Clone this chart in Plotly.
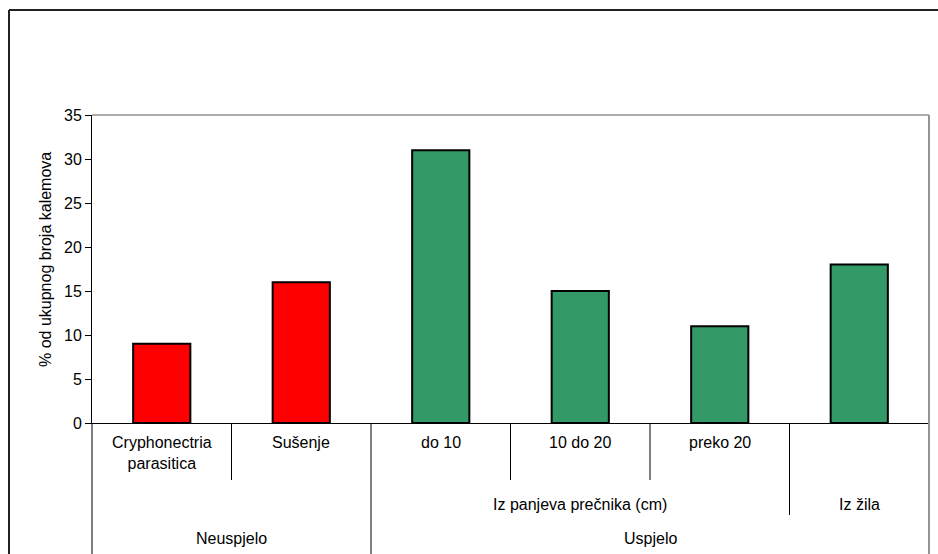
import plotly.graph_objects as go

# Data
categories = ["Cryphonectria<br>parasitica", "Sušenje", "do 10", "10 do 20", "preko 20", ""]
values = [9, 16, 31, 15, 11, 18]
bar_colors = ["#ff0000", "#ff0000", "#339966", "#339966", "#339966", "#339966"]

# Second level: (label, first index, last index)
level2 = [("", 0, 1), ("Iz panjeva prečnika (cm)", 2, 4), ("Iz žila", 5, 5)]
# Third level
level3 = [("Neuspjelo", 0, 1), ("Uspjelo", 2, 5)]

y_title = "% od ukupnog broja kalemova"
y_ticks = [0, 5, 10, 15, 20, 25, 30, 35]

W, H = 938, 554
L, R, T, B = 92, 9, 115, 131
plot_h = H - T - B
plot_w = W - L - R
FONT = "Liberation Sans, Arial, sans-serif"


def py(pixel_y):
    """Pixel row (from top) -> paper y coordinate."""
    return (H - B - pixel_y) / plot_h


def px(pixel_x):
    return (pixel_x - L) / plot_w


x = list(range(len(values)))

fig = go.Figure(
    go.Bar(
        x=x,
        y=values,
        marker=dict(color=bar_colors, line=dict(color="#000000", width=2)),
        width=0.41,
        hoverinfo="skip",
    )
)

shapes = []
annotations = []

# first-level labels and separators
for i, lab in enumerate(categories):
    annotations.append(dict(
        x=i, y=py(432), xref="x", yref="paper", text=lab, showarrow=False,
        yanchor="top", xanchor="center", align="center",
        font=dict(size=16, color="#000000", family=FONT),
    ))

# separator depth for each boundary, by how many levels it divides
n = len(values)
bottom_l1, bottom_l2, bottom_l3 = 480, 515, H + 2
starts2 = {s for _, s, _ in level2}
starts3 = {s for _, s, _ in level3}
for b in range(1, n):
    if b in starts3:
        yb = bottom_l3
    elif b in starts2:
        yb = bottom_l2
    else:
        yb = bottom_l1
    shapes.append(dict(type="line", xref="x", yref="paper", x0=b - 0.5, x1=b - 0.5,
                       y0=0, y1=py(yb), line=dict(color="#000000", width=1)))

# outer left edge of the category axis
shapes.append(dict(type="line", xref="paper", yref="paper", x0=0, x1=0,
                   y0=0, y1=py(bottom_l3), line=dict(color="#000000", width=1)))

for lab, s, e in level2:
    if lab:
        annotations.append(dict(
            x=(s + e) / 2, y=py(504), xref="x", yref="paper", text=lab, showarrow=False,
            yanchor="middle", xanchor="center",
            font=dict(size=16, color="#000000", family=FONT),
        ))
for lab, s, e in level3:
    annotations.append(dict(
        x=(s + e) / 2, y=py(538), xref="x", yref="paper", text=lab, showarrow=False,
        yanchor="middle", xanchor="center",
        font=dict(size=16, color="#000000", family=FONT),
    ))

# y axis title
annotations.append(dict(
    x=px(45), y=py(260), xref="paper", yref="paper", text=y_title, showarrow=False,
    textangle=-90, xanchor="center", yanchor="middle",
    font=dict(size=16, color="#000000", family=FONT),
))

# plot area frame (grey top and right)
shapes.append(dict(type="line", xref="paper", yref="paper", x0=0, x1=1, y0=1, y1=1,
                   line=dict(color="#adadad", width=2)))
shapes.append(dict(type="line", xref="paper", yref="paper", x0=1, x1=1, y0=1,
                   y1=py(bottom_l3), line=dict(color="#959595", width=2)))

# chart frame (top and left)
shapes.append(dict(type="line", xref="paper", yref="paper", x0=px(9), x1=px(W + 5),
                   y0=py(10), y1=py(10), line=dict(color="#222222", width=2)))
shapes.append(dict(type="line", xref="paper", yref="paper", x0=px(9), x1=px(9),
                   y0=py(10), y1=py(H + 5), line=dict(color="#222222", width=2)))

fig.update_layout(
    width=W, height=H,
    margin=dict(l=L, r=R, t=T, b=B, pad=0),
    paper_bgcolor="#ffffff", plot_bgcolor="#ffffff",
    showlegend=False,
    bargap=0.59,
    font=dict(family=FONT, size=16, color="#000000"),
    xaxis=dict(
        range=[-0.5, n - 0.5], showticklabels=False, ticks="", showgrid=False,
        zeroline=False, showline=True, linecolor="#000000", linewidth=1,
        fixedrange=True,
    ),
    yaxis=dict(
        range=[0, 35], tickvals=y_ticks, ticks="outside", ticklen=6,
        tickcolor="#000000", tickwidth=1, showgrid=False, zeroline=False,
        showline=True, linecolor="#000000", linewidth=1,
        tickfont=dict(size=16, color="#000000", family=FONT),
        fixedrange=True,
    ),
    shapes=shapes,
    annotations=annotations,
)

fig.write_html("out.html")
